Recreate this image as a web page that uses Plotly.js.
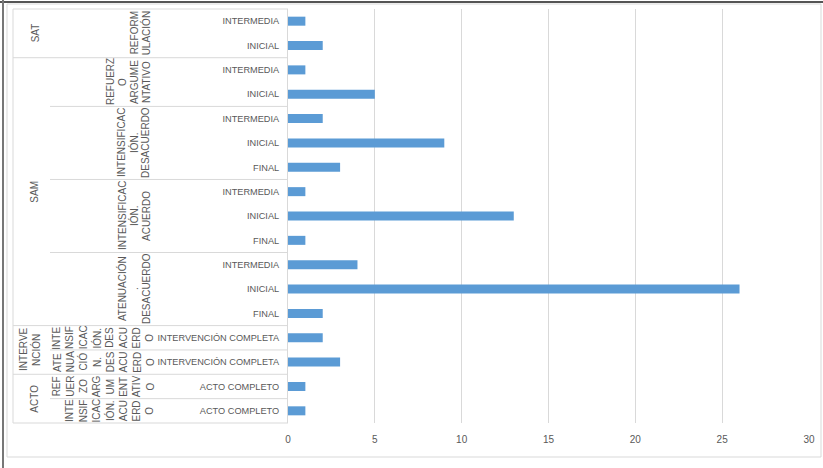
<!DOCTYPE html>
<html>
<head>
<meta charset="utf-8">
<script src="https://cdn.plot.ly/plotly-3.0.1.min.js"></script>
<style>html,body{margin:0;padding:0;background:#fff;}#chart{width:823px;height:468px;}</style>
</head>
<body>
<div id="chart"></div>
<script>
// ---- data (top to bottom) ----
const leafLabels = ['INTERMEDIA','INICIAL','INTERMEDIA','INICIAL','INTERMEDIA','INICIAL','FINAL',
  'INTERMEDIA','INICIAL','FINAL','INTERMEDIA','INICIAL','FINAL',
  'INTERVENCIÓN COMPLETA','INTERVENCIÓN COMPLETA','ACTO COMPLETO','ACTO COMPLETO'];
const values = [1,2,1,5,2,9,3,1,13,1,4,26,2,2,3,1,1];

// level 2 groups (as wrapped in the picture)
const groupLines = [
  ['REFORM','ULACIÓN'],
  ['REFUERZ','O','ARGUME','NTATIVO'],
  ['INTENSIFICAC','IÓN.','DESACUERDO'],
  ['INTENSIFICAC','IÓN.','ACUERDO'],
  ['ATENUACIÓN','.','DESACUERDO'],
  ['INTE','NSIF','ICAC','IÓN.','DES','ACU','ERD','O'],
  ['ATE','NUA','CIÓ','N.','DES','ACU','ERD','O'],
  ['REF','UER','ZO','ARG','UM','ENT','ATIV','O'],
  ['INTE','NSIF','ICAC','IÓN.','ACU','ERD','O']
];
const groupSizes = [2,2,3,3,3,1,1,1,1];

// level 1 groups
const topLines = [['SAT'],['SAM'],['INTERVE','NCIÓN'],['ACTO']];
const topSizes = [2,11,2,2];

// ---- layout helpers ----
const N = leafLabels.length;
const PL = 288, PW = 521, PT = 9, PH = 414;
const px = x => (x - PL) / PW;
const py = y => (PT + PH - y) / PH;
const rowEdge = i => 1 - i / N;
const grey = '#595959', lineC = '#d9d9d9';
const FONT = 'Liberation Sans, Arial, sans-serif';

const shapes = [];
const annotations = [];
function hline(yp, x0) {
  shapes.push({type:'line', xref:'paper', yref:'paper', x0:px(x0), x1:0, y0:yp, y1:yp,
    line:{color:lineC, width:1}});
}
// level 1 boundaries
let edges1 = [0]; topSizes.forEach(s => edges1.push(edges1[edges1.length-1] + s));
edges1.forEach(e => hline(rowEdge(e), 13));
// level 2 boundaries
let edges2 = [0]; groupSizes.forEach(s => edges2.push(edges2[edges2.length-1] + s));
edges2.filter(e => !edges1.includes(e)).forEach(e => hline(rowEdge(e), 50));
// left vertical of table
shapes.push({type:'line', xref:'paper', yref:'paper', x0:px(13), x1:px(13), y0:rowEdge(0), y1:rowEdge(N),
  line:{color:lineC, width:1}});
// chart border
shapes.push({type:'rect', xref:'paper', yref:'paper', x0:px(7), x1:px(821), y0:py(457), y1:py(4),
  line:{color:lineC, width:1}, fillcolor:'rgba(0,0,0,0)'});
// dark frame lines top / left
shapes.push({type:'line', xref:'paper', yref:'paper', x0:px(0), x1:px(823), y0:py(2), y1:py(2),
  line:{color:'#555', width:2}});
shapes.push({type:'line', xref:'paper', yref:'paper', x0:px(3), x1:px(3), y0:py(0), y1:py(468),
  line:{color:'#777', width:2}});

// level 2 labels
groupLines.forEach((lines, g) => {
  const c = (edges2[g] + edges2[g+1]) / 2;
  const yc = 1 - c / N;
  const bottom = groupSizes[g] === 1;
  const last = bottom ? 150 : 146;
  const step = bottom ? 13.3 : 12;
  lines.forEach((t, k) => {
    const x = last - (lines.length - 1 - k) * step;
    annotations.push({xref:'paper', yref:'paper', x:px(x), y:yc, text:t, showarrow:false,
      textangle:-90, xanchor:'center', yanchor:'middle',
      font:{family:FONT, size:10, color:grey}});
  });
});
// level 1 labels
topLines.forEach((lines, g) => {
  const c = (edges1[g] + edges1[g+1]) / 2;
  const yc = 1 - c / N;
  lines.forEach((t, k) => {
    const x = lines.length === 1 ? 35 : 24 + k * 12;
    annotations.push({xref:'paper', yref:'paper', x:px(x), y:yc, text:t, showarrow:false,
      textangle:-90, xanchor:'center', yanchor:'middle',
      font:{family:FONT, size:10, color:grey}});
  });
});

const idx = leafLabels.map((_, i) => i);
const trace = {
  type:'bar', orientation:'h', x:values, y:idx,
  marker:{color:'#5B9BD5'}, width:0.37, hoverinfo:'x'
};

const layout = {
  width:823, height:468,
  margin:{l:PL, r:823-PL-PW, t:PT, b:468-PT-PH, pad:0},
  paper_bgcolor:'#ffffff', plot_bgcolor:'#ffffff',
  showlegend:false,
  font:{family:FONT, size:10, color:grey},
  xaxis:{range:[0,30], tickvals:[0,5,10,15,20,25,30], showgrid:true, gridcolor:lineC, gridwidth:1,
    zeroline:false, showline:false, ticks:'', ticklabelstandoff:9,
    tickfont:{family:FONT, size:10, color:grey}},
  yaxis:{range:[N-0.5,-0.5], tickvals:idx, ticktext:leafLabels, showgrid:false, zeroline:false,
    showline:true, linecolor:lineC, linewidth:1, ticks:'', ticklabelstandoff:6,
    tickfont:{family:FONT, size:9.2, color:grey}},
  shapes:shapes, annotations:annotations
};
Plotly.newPlot('chart', [trace], layout, {displayModeBar:false, staticPlot:true});
</script>
</body>
</html>
